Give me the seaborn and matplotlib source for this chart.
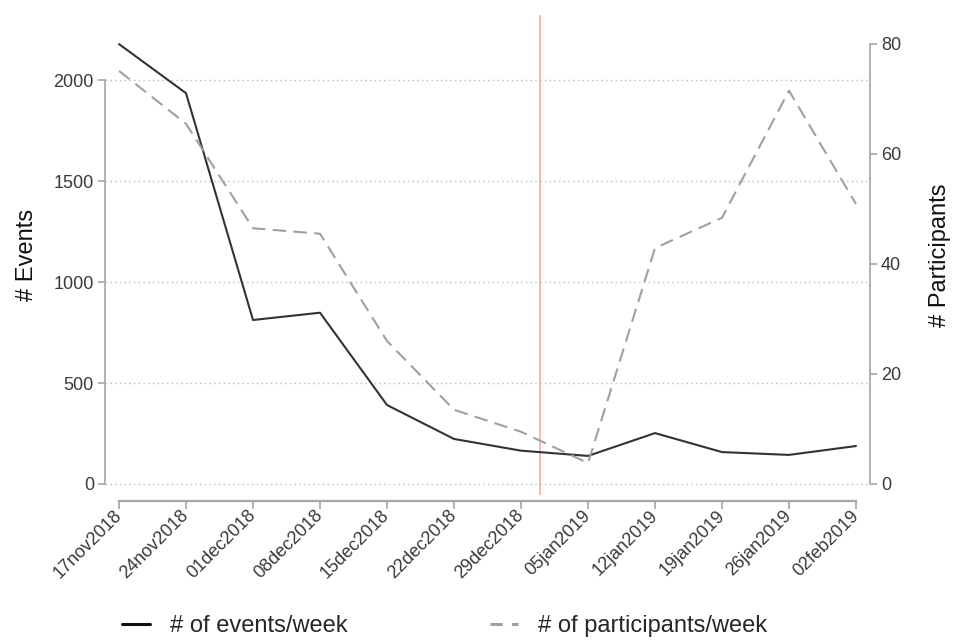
import matplotlib
matplotlib.use("Agg")
import matplotlib.pyplot as plt
import matplotlib.dates as mdates
from matplotlib.lines import Line2D
import seaborn as sns
import pandas as pd
import numpy as np

# ---- data ----
weeks = ["2018-11-17", "2018-11-24", "2018-12-01", "2018-12-08", "2018-12-15", "2018-12-22",
         "2018-12-29", "2019-01-05", "2019-01-12", "2019-01-19", "2019-01-26", "2019-02-02"]
week_labels = ["17nov2018", "24nov2018", "01dec2018", "08dec2018", "15dec2018", "22dec2018",
               "29dec2018", "05jan2019", "12jan2019", "19jan2019", "26jan2019", "02feb2019"]
events = [2178, 1935, 812, 848, 391, 223, 165, 139, 252, 158, 144, 188]
participants = [75.1, 65.5, 46.5, 45.5, 26.0, 13.5, 9.5, 3.8, 42.9, 48.4, 71.5, 50.9]
event_marker_date = "2018-12-31"
left_ticks = [0, 500, 1000, 1500, 2000]
right_ticks = [0, 20, 40, 60, 80]

df = pd.DataFrame({"week": pd.to_datetime(weeks), "events": events, "participants": participants})

sns.set_theme(style="white")
plt.rcParams["font.family"] = ["Liberation Sans", "DejaVu Sans"]

fig = plt.figure(figsize=(9.54, 6.4), dpi=100)
ax = fig.add_axes([105 / 954, 1 - 495 / 640, (870 - 105) / 954, (495 - 15) / 640])
ax2 = ax.twinx()

sns.lineplot(data=df, x="week", y="events", ax=ax, color="#333333", linewidth=1.5)
sns.lineplot(data=df, x="week", y="participants", ax=ax2, color="#a0a0a0", linewidth=1.5)
ax2.lines[0].set_dashes((6.5, 3.5))

ax.axvline(pd.Timestamp(event_marker_date), color="#ffa8a8", linewidth=1.2, zorder=0)

d0 = mdates.date2num(df["week"].iloc[0])
d1 = mdates.date2num(df["week"].iloc[-1])
pad = 0.209 * 7
ax.set_xlim(d0 - pad, d1 + pad)

ax.set_ylim(-54.5, 2322)
ax2.set_ylim(-2.0, 85.27)

spine_c = "#a8a8a8"
txt_c = "#3a3a3a"
for a in (ax, ax2):
    for s in a.spines.values():
        s.set_visible(False)
ax.spines["left"].set_visible(True)
ax.spines["left"].set_bounds(0, 2000)
ax.spines["left"].set_color(spine_c)
ax.spines["bottom"].set_visible(True)
ax.spines["bottom"].set_position(("outward", 4))
ax.spines["bottom"].set_bounds(d0, d1)
ax.spines["bottom"].set_color(spine_c)
ax.spines["bottom"].set_linewidth(1.6)
ax2.spines["right"].set_visible(True)
ax2.spines["right"].set_bounds(0, 80)
ax2.spines["right"].set_color(spine_c)

ax.tick_params(axis="y", left=True, length=5, color=spine_c, labelsize=13, labelcolor=txt_c, pad=3)
ax.tick_params(axis="x", bottom=True, length=6, color=spine_c, labelsize=13, labelcolor=txt_c, pad=3)
ax2.tick_params(axis="y", right=True, length=5, color=spine_c, labelsize=13, labelcolor=txt_c, pad=3)
ax2.tick_params(axis="x", bottom=False, top=False, labelbottom=False, labeltop=False)

ax.set_yticks(left_ticks)
ax.set_yticklabels([str(t) for t in left_ticks])
ax2.set_yticks(right_ticks)
ax2.set_yticklabels([str(t) for t in right_ticks])
ax.set_xticks(mdates.date2num(df["week"]))
ax.set_xticklabels(week_labels)
for lbl in ax.get_xticklabels():
    lbl.set_rotation(45)
    lbl.set_rotation_mode("anchor")
    lbl.set_ha("right")
    lbl.set_va("center")

ax.yaxis.grid(True, linestyle=(0, (1.2, 2.2)), color="#c4c4c4", linewidth=1.0)
ax.xaxis.grid(False)
ax2.grid(False)

ax.set_xlabel("")
ax.set_ylabel("# Events", fontsize=17, color="#111111", labelpad=11)
ax2.set_ylabel("# Participants", fontsize=17, color="#111111", labelpad=20)

handles = [Line2D([], [], color="#111111", linewidth=2.2),
           Line2D([], [], color="#a0a0a0", linewidth=2.2, dashes=(4, 3))]
fig.legend(handles, ["# of events/week", "# of participants/week"],
           loc="center left", bbox_to_anchor=(122 / 954, 1 - 626 / 640), ncol=2,
           frameon=False, fontsize=17, handlelength=1.2, handletextpad=0.85,
           columnspacing=6.0, borderpad=0, borderaxespad=0)

fig.savefig("out.png", dpi=100)
